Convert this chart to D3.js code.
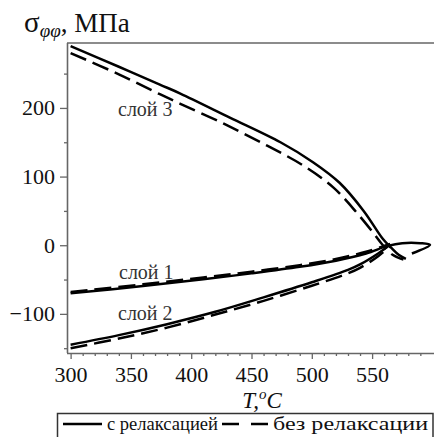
<!DOCTYPE html>
<html>
<head>
<meta charset="utf-8">
<script src="https://cdn.jsdelivr.net/npm/d3@7"></script>
<style>
  body { margin: 0; background: #fff; }
  svg text { font-family: "Times New Roman", "Liberation Serif", Tinos, "DejaVu Serif", "Noto Serif", FreeSerif, serif; }
</style>
</head>
<body>
<div id="graph"></div>
<script>
// Data: temperature (°C) and hoop stress (MPa)
const layer3_T_relax = [300, 340, 374, 391, 432, 474, 501, 523, 543, 559, 566, 572, 578];
const layer3_S_relax = [290, 260, 234, 221, 186, 150, 121, 91, 50, 9, -4, -14, -20];
const layer3_T_norel = [300, 340, 374, 391, 427, 463, 493, 518, 537, 551, 559, 567, 576];
const layer3_S_norel = [280, 249, 220, 206, 177, 145, 116, 84, 48, 18, 0, -14, -21];

const layer1_T_relax = [300, 360, 410, 450, 490, 520, 545, 563, 575, 590, 598, 583];
const layer1_S_relax = [-70, -59.5, -49.5, -41, -31.5, -22.5, -12, -1, 3, 3, 0.5, -12];
const layer1_T_norel = [300, 360, 410, 450, 490, 520, 545, 565];
const layer1_S_norel = [-68, -57, -47, -38.5, -29, -20, -9.5, 2];

const layer2_T_relax = [300, 340, 380, 420, 460, 500, 530, 540, 555, 563];
const layer2_S_relax = [-145, -131, -115, -97, -76, -54, -36, -28, -12, -2];
const layer2_T_norel = [300, 340, 380, 420, 460, 500, 530, 540, 555, 565];
const layer2_S_norel = [-150, -136, -120, -101, -81, -59, -41, -33, -16, -1];

const xMajor = [300, 350, 400, 450, 500, 550];
const yMajor = [-100, 0, 100, 200];
const yLabels = ["−100", "0", "100", "200"];
const layerNames = ["слой 3", "слой 1", "слой 2"];
const legendNames = ["с релаксацией", "без релаксации"];

const width = 434, height = 437;
const marginLeft = 67, marginTop = 43, plotRight = 432.4, plotBottom = 353;
const serif = '"Times New Roman", "Liberation Serif", Tinos, "DejaVu Serif", serif';

const x = d3.scaleLinear().domain([297, 600]).range([marginLeft, plotRight]);
const y = d3.scaleLinear().domain([-157, 294.6]).range([plotBottom, marginTop]);

const svg = d3.create("svg").attr("width", width).attr("height", height)
    .attr("font-family", serif);

const axisColor = "#666";

// top frame line
svg.append("line")
    .attr("x1", marginLeft).attr("x2", width)
    .attr("y1", marginTop).attr("y2", marginTop)
    .attr("stroke", axisColor).attr("stroke-width", 1.6);

// x axis minor ticks
const xMinor = d3.range(310, 600, 10).filter(v => v % 50 !== 0);
svg.append("g")
    .attr("transform", `translate(0,${plotBottom})`)
    .call(d3.axisBottom(x).tickValues(xMinor).tickSize(3).tickFormat("").tickSizeOuter(0))
    .call(g => g.select(".domain").remove())
    .call(g => g.selectAll("line").attr("stroke", axisColor).attr("stroke-width", 1.3));

// x axis
svg.append("g")
    .attr("transform", `translate(0,${plotBottom})`)
    .call(d3.axisBottom(x).tickValues(xMajor).tickSize(6).tickPadding(7).tickSizeOuter(0))
    .attr("font-family", serif)
    .call(g => g.select(".domain").attr("stroke", axisColor).attr("stroke-width", 1.6)
        .attr("d", `M${marginLeft},0.5H${width}`))
    .call(g => g.selectAll("line").attr("stroke", axisColor).attr("stroke-width", 1.3))
    .call(g => g.selectAll("text").attr("font-size", 22).attr("fill", "#111"));

// y axis minor ticks
svg.append("g")
    .attr("transform", `translate(${marginLeft},0)`)
    .call(d3.axisLeft(y).tickValues([-150, -50, 50, 150, 250]).tickSize(3).tickFormat("").tickSizeOuter(0))
    .call(g => g.select(".domain").remove())
    .call(g => g.selectAll("line").attr("stroke", axisColor).attr("stroke-width", 1.3));

// y axis
svg.append("g")
    .attr("transform", `translate(${marginLeft},0)`)
    .call(d3.axisLeft(y).tickValues(yMajor).tickSize(7).tickPadding(5).tickSizeOuter(0)
        .tickFormat((d, i) => yLabels[i]))
    .attr("font-family", serif)
    .call(g => g.select(".domain").attr("stroke", axisColor).attr("stroke-width", 1.6)
        .attr("d", `M0.5,${marginTop}V${plotBottom}`))
    .call(g => g.selectAll("line").attr("stroke", axisColor).attr("stroke-width", 1.3))
    .call(g => g.selectAll("text").attr("font-size", 22).attr("fill", "#111"));

// y axis title
const title = svg.append("text").attr("x", 24).attr("y", 32).attr("fill", "#111");
title.append("tspan").attr("font-size", 29).text("σ");
title.append("tspan").attr("font-size", 19).attr("font-style", "italic").attr("dy", 5).text("φφ");
title.append("tspan").attr("font-size", 27).attr("dy", -5).text(", МПа");

// x axis title
const xt = svg.append("text").attr("x", 262).attr("y", 408).attr("text-anchor", "middle")
    .attr("font-size", 23).attr("font-style", "italic").attr("fill", "#111");
xt.append("tspan").text("T,");
xt.append("tspan").attr("font-size", 15).attr("dy", -9).text("o");
xt.append("tspan").attr("dy", 9).text("C");

// curves
const line = d3.line()
    .x(d => x(d[0]))
    .y(d => y(d[1]))
    .curve(d3.curveCatmullRom.alpha(0.5));

const series = [
    { T: layer3_T_relax, S: layer3_S_relax, dash: null },
    { T: layer3_T_norel, S: layer3_S_norel, dash: "17,7" },
    { T: layer1_T_relax, S: layer1_S_relax, dash: null },
    { T: layer1_T_norel, S: layer1_S_norel, dash: "17,7" },
    { T: layer2_T_relax, S: layer2_S_relax, dash: null },
    { T: layer2_T_norel, S: layer2_S_norel, dash: "17,7" }
];

svg.append("g")
    .selectAll("path")
    .data(series)
    .join("path")
    .attr("fill", "none")
    .attr("stroke", "#000")
    .attr("stroke-width", 2.5)
    .attr("stroke-dasharray", d => d.dash)
    .attr("d", d => line(d.T.map((t, i) => [t, d.S[i]])));

// layer labels
const labelPos = [[118, 116], [119, 279], [118, 320]];
svg.append("g")
    .selectAll("text")
    .data(layerNames)
    .join("text")
    .attr("x", (d, i) => labelPos[i][0])
    .attr("y", (d, i) => labelPos[i][1])
    .attr("font-size", 20)
    .attr("fill", "#333")
    .text(d => d);

// legend
const legend = svg.append("g");
legend.append("rect")
    .attr("x", 57.5).attr("y", 413.5).attr("width", 375.5).attr("height", 40)
    .attr("fill", "none").attr("stroke", "#333").attr("stroke-width", 1.5);
legend.append("line")
    .attr("x1", 63).attr("x2", 102).attr("y1", 424).attr("y2", 424)
    .attr("stroke", "#000").attr("stroke-width", 2.5);
legend.append("text").attr("x", 107).attr("y", 430).attr("font-size", 19).attr("fill", "#111")
    .attr("textLength", 111).attr("lengthAdjust", "spacingAndGlyphs")
    .text(legendNames[0]);
legend.append("line")
    .attr("x1", 222).attr("x2", 268).attr("y1", 424).attr("y2", 424)
    .attr("stroke", "#000").attr("stroke-width", 2.5).attr("stroke-dasharray", "17,12");
legend.append("text").attr("x", 273).attr("y", 430).attr("font-size", 19).attr("fill", "#111")
    .attr("textLength", 155).attr("lengthAdjust", "spacingAndGlyphs")
    .text(legendNames[1]);

document.getElementById("graph").appendChild(svg.node());
</script>
</body>
</html>
